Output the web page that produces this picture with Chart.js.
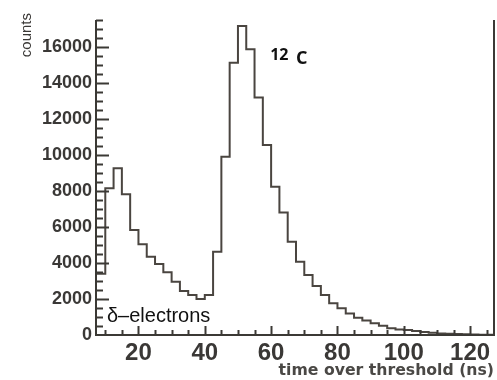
<!DOCTYPE html>
<html>
<head>
<meta charset="utf-8">
<script src="https://cdn.jsdelivr.net/npm/chart.js@4.4.1/dist/chart.umd.min.js"></script>
<style>
  html, body { margin: 0; padding: 0; background: #ffffff; }
  #wrap { width: 497px; height: 380px; }
</style>
</head>
<body>
<div id="wrap"><canvas id="c" width="497" height="380"></canvas></div>
<script>
// ---- data ----
const binLeftEdges = [7.5, 10, 12.5, 15, 17.5, 20, 22.5, 25, 27.5, 30, 32.5, 35, 37.5, 40, 42.5, 45, 47.5, 50, 52.5, 55, 57.5, 60, 62.5, 65, 67.5, 70, 72.5, 75, 77.5, 80, 82.5, 85, 87.5, 90, 92.5, 95, 97.5, 100, 102.5, 105, 107.5, 110, 112.5, 115, 117.5, 120, 122.5, 125];
const binCounts = [3400, 8150, 9260, 7820, 5830, 5040, 4350, 3940, 3480, 2960, 2440, 2220, 2000, 2220, 4630, 9900, 15130, 17170, 15870, 13200, 10560, 8240, 6800, 5180, 4070, 3330, 2720, 2220, 1760, 1480, 1200, 960, 800, 650, 520, 370, 310, 280, 220, 170, 130, 90, 70, 50, 40, 30, 20, 10];
const binWidth = 2.5;
const xRange = [7.2, 127.2];
const yRange = [0, 17500];
const yLabelTicks = [0, 2000, 4000, 6000, 8000, 10000, 12000, 14000, 16000];
const xLabelTicks = [20, 40, 60, 80, 100, 120];
const xTitle = 'time over threshold (ns)';
const yTitle = 'counts';
const peakLabelSup = '12';
const peakLabelMain = 'C';
const lowLabel = 'δ–electrons';

// histogram points at bin left edges, plus closing right edge
const points = binLeftEdges.map((e, i) => ({ x: e, y: binCounts[i] }));
points.push({ x: binLeftEdges[binLeftEdges.length - 1] + binWidth, y: binCounts[binCounts.length - 1] });

const axisColor = '#3b3935';
const textColor = '#3a3836';

const frameTicks = {
  id: 'frameTicks',
  afterDatasetsDraw(chart) {
    const ctx = chart.ctx;
    const ca = chart.chartArea;
    const xs = chart.scales.x, ys = chart.scales.y;
    ctx.save();
    ctx.strokeStyle = axisColor;
    ctx.lineWidth = 2;
    // frame: left, bottom, right
    ctx.beginPath();
    ctx.moveTo(ca.left, ca.top);
    ctx.lineTo(ca.left, ca.bottom);
    ctx.lineTo(ca.right, ca.bottom);
    ctx.lineTo(ca.right, ca.top);
    ctx.stroke();
    // y ticks (inward)
    ys.ticks.forEach(t => {
      const v = t.value;
      if (v % 500 !== 0 || v === 0) return;
      const py = Math.round(ys.getPixelForValue(v)) + 0.5;
      const len = (v % 2000 === 0) ? 13 : 7;
      ctx.beginPath();
      ctx.moveTo(ca.left, py);
      ctx.lineTo(ca.left + len, py);
      ctx.stroke();
    });
    // x ticks (inward)
    xs.ticks.forEach(t => {
      const v = t.value;
      if (Math.abs(v % 5) > 1e-6) return;
      const px = Math.round(xs.getPixelForValue(v)) + 0.5;
      const len = (v % 20 === 0) ? 9 : 5;
      ctx.beginPath();
      ctx.moveTo(px, ca.bottom);
      ctx.lineTo(px, ca.bottom - len);
      ctx.stroke();
    });
    // y title (rotated) at the top-left
    ctx.fillStyle = textColor;
    ctx.font = '15px "Liberation Sans", Arial, sans-serif';
    ctx.save();
    ctx.translate(31, 13);
    ctx.rotate(-Math.PI / 2);
    ctx.textAlign = 'right';
    ctx.textBaseline = 'alphabetic';
    ctx.fillText(yTitle, 0, 0);
    ctx.restore();
    // annotations
    ctx.fillStyle = '#111111';
    ctx.textBaseline = 'alphabetic';
    ctx.textAlign = 'left';
    ctx.font = 'bold 16px "Open Sans", sans-serif';
    ctx.fillText(peakLabelSup, xs.getPixelForValue(59.7), ys.getPixelForValue(15270));
    ctx.font = 'bold 18px "Open Sans", sans-serif';
    ctx.fillText(peakLabelMain, xs.getPixelForValue(67.5), ys.getPixelForValue(15080));
    ctx.font = '20px "Liberation Sans", Arial, sans-serif';
    ctx.fillText(lowLabel, xs.getPixelForValue(10.5), ys.getPixelForValue(740));
    ctx.restore();
  }
};

new Chart(document.getElementById('c'), {
  type: 'line',
  data: {
    datasets: [{
      data: points,
      stepped: 'before',
      borderColor: '#4a4540',
      borderWidth: 2,
      pointRadius: 0,
      fill: false,
      tension: 0
    }]
  },
  options: {
    responsive: false,
    devicePixelRatio: 1,
    animation: false,
    layout: { padding: { top: 20, right: 3, left: 0, bottom: 0 } },
    plugins: { legend: { display: false }, tooltip: { enabled: false } },
    scales: {
      x: {
        type: 'linear',
        min: xRange[0],
        max: xRange[1],
        afterFit(s) { s.height = 45; },
        afterBuildTicks(s) {
          const t = [];
          for (let v = Math.ceil(xRange[0] / 5) * 5; v <= xRange[1]; v += 5) t.push({ value: v });
          s.ticks = t;
        },
        grid: { display: false, drawTicks: false },
        border: { display: false },
        ticks: {
          autoSkip: false,
          maxRotation: 0,
          padding: 4,
          color: textColor,
          font: { family: '"Liberation Sans", Arial, sans-serif', size: 24, weight: 'bold' },
          callback: (v) => xLabelTicks.includes(v) ? String(v) : ''
        },
        title: {
          display: true,
          text: xTitle,
          align: 'end',
          color: '#4a4845',
          font: { family: '"DejaVu Sans", sans-serif', size: 15.7, weight: 'bold' },
          padding: { top: 0, bottom: 0 }
        }
      },
      y: {
        min: yRange[0],
        max: yRange[1],
        afterFit(s) { s.width = 96; },
        afterBuildTicks(s) {
          const t = [];
          for (let v = yRange[0]; v <= yRange[1]; v += 500) t.push({ value: v });
          s.ticks = t;
        },
        grid: { display: false, drawTicks: false },
        border: { display: false },
        ticks: {
          autoSkip: false,
          padding: 4,
          color: textColor,
          font: { family: '"Liberation Sans", Arial, sans-serif', size: 18, weight: 'bold' },
          callback: (v) => yLabelTicks.includes(v) ? String(v) : ''
        }
      }
    }
  },
  plugins: [frameTicks]
});
</script>
</body>
</html>
